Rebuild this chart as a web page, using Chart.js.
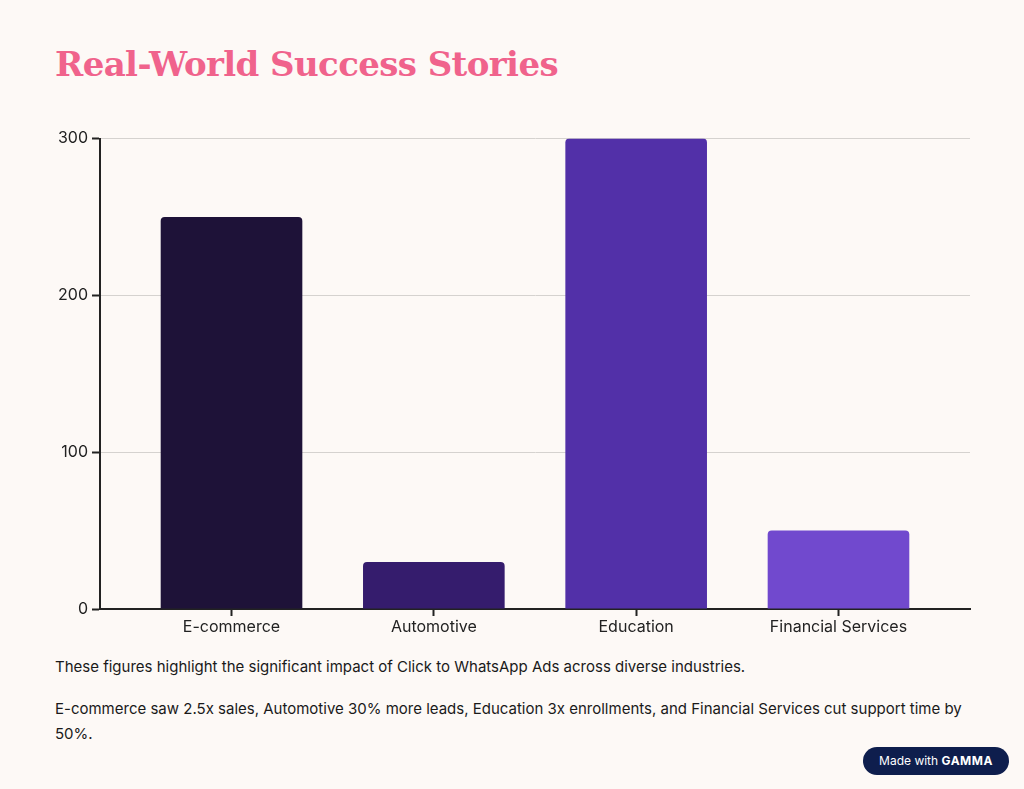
<!DOCTYPE html>
<html>
<head>
<meta charset="utf-8">
<script src="https://cdn.jsdelivr.net/npm/chart.js@4"></script>
<style>
  body { margin: 0; width: 1024px; height: 789px; background: #FDF9F6; position: relative; overflow: hidden; font-family: Inter, sans-serif; }
  h1 { position: absolute; left: 55px; top: 44px; margin: 0; font-family: "DejaVu Serif", serif; font-weight: bold; font-size: 34px; color: #F0638C; letter-spacing: -0.6px; }
  #wrap { position: absolute; left: 0; top: 125px; width: 980px; height: 520px; }
  .txt { position: absolute; left: 55px; width: 920px; font-size: 15px; line-height: 25px; color: #1a1a1a; margin: 0; }
  #badge { position: absolute; left: 863px; top: 747px; width: 146px; height: 28px; border-radius: 14px; background: #0E1E4D; color: #fff; font-size: 12px; line-height: 28px; text-align: center; }
</style>
</head>
<body>
<h1>Real-World Success Stories</h1>
<div id="wrap"><canvas id="chart"></canvas></div>
<p class="txt" style="top:654px">These figures highlight the significant impact of Click to WhatsApp Ads across diverse industries.</p>
<p class="txt" style="top:696px">E-commerce saw 2.5x sales, Automotive 30% more leads, Education 3x enrollments, and Financial Services cut support time by 50%.</p>
<div id="badge">Made with <b style="letter-spacing:0.5px">GAMMA</b></div>
<script>
const categories = ['E-commerce', 'Automotive', 'Education', 'Financial Services'];
const values = [250, 30, 300, 50];
const barColors = ['#1E1238', '#351C6D', '#5230A8', '#7149CE'];
const yTicks = [0, 100, 200, 300];

new Chart(document.getElementById('chart'), {
  type: 'bar',
  data: {
    datasets: [{
      data: values.map((v, i) => ({ x: i, y: v })),
      backgroundColor: barColors,
      borderRadius: { topLeft: 4, topRight: 4 },
      borderSkipped: 'bottom',
      categoryPercentage: 0.7,
      barPercentage: 1,
    }],
  },
  options: {
    responsive: true,
    maintainAspectRatio: false,
    animation: false,
    layout: { padding: { top: 12, right: 10 } },
    plugins: { legend: { display: false }, tooltip: { enabled: false } },
    scales: {
      x: {
        type: 'linear',
        offset: false,
        min: -0.65,
        max: categories.length - 1 + 0.65,
        afterBuildTicks(s) { s.ticks = categories.map((c, i) => ({ value: i })); },
        grid: { display: true, offset: false, drawOnChartArea: false, tickLength: 7, tickColor: '#222', tickWidth: 2 },
        border: { color: '#222', width: 2 },
        ticks: { color: '#222', font: { family: 'Inter', size: 16 }, padding: 2, autoSkip: false, maxRotation: 0, callback: (v) => categories[v] },
        afterFit(s) { s.height = 36; },
      },
      y: {
        min: 0, max: 300,
        afterBuildTicks(s) { s.ticks = yTicks.map((v) => ({ value: v })); },
        grid: { color: '#D5D2CF', tickLength: 8, tickColor: '#222', tickWidth: 2 },
        border: { color: '#222', width: 2 },
        ticks: { color: '#222', font: { family: 'Inter', size: 16 }, padding: 4 },
        afterFit(s) { s.width = 100; },
      },
    },
  },
});
</script>
</body>
</html>
